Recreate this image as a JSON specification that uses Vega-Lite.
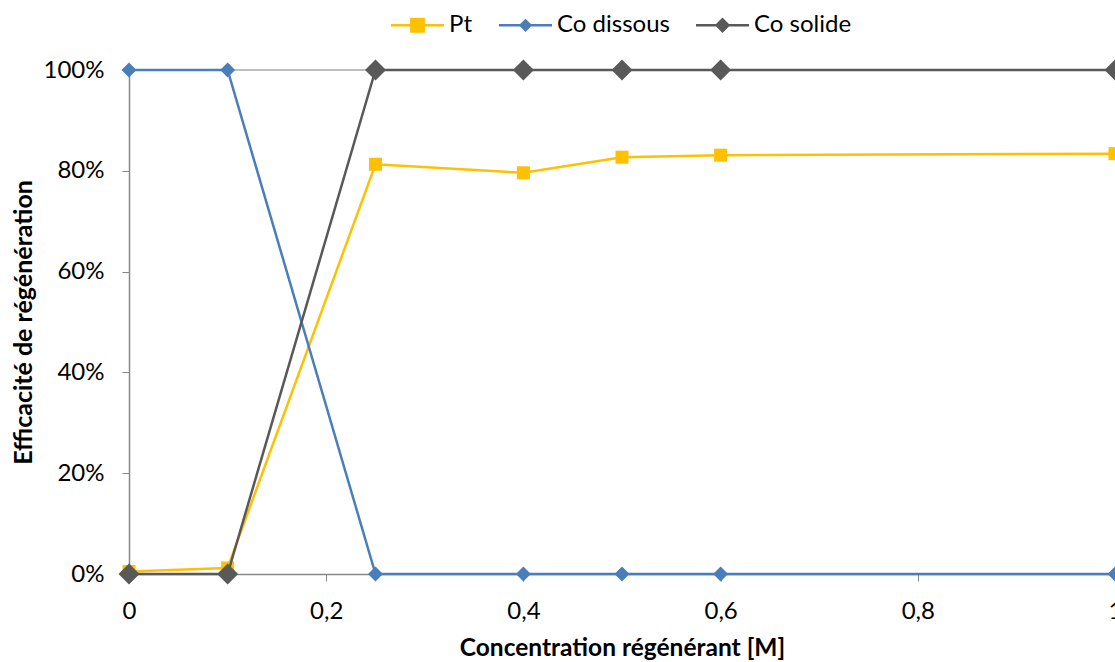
{
  "$schema": "https://vega.github.io/schema/vega-lite/v6.json",
  "width": 986,
  "height": 504,
  "autosize": {"type": "none"},
  "padding": {"left": 129, "top": 70, "right": 0, "bottom": 88},
  "config": {"font": "Lato", "view": {"stroke": null}},
  "data": {"values": [
    {"x": 0, "v": 0.005, "s": "Pt"},
    {"x": 0.1, "v": 0.012, "s": "Pt"},
    {"x": 0.25, "v": 0.813, "s": "Pt"},
    {"x": 0.4, "v": 0.796, "s": "Pt"},
    {"x": 0.5, "v": 0.827, "s": "Pt"},
    {"x": 0.6, "v": 0.831, "s": "Pt"},
    {"x": 1, "v": 0.834, "s": "Pt"},
    {"x": 0, "v": 1, "s": "Co dissous"},
    {"x": 0.1, "v": 1, "s": "Co dissous"},
    {"x": 0.25, "v": 0, "s": "Co dissous"},
    {"x": 0.4, "v": 0, "s": "Co dissous"},
    {"x": 0.5, "v": 0, "s": "Co dissous"},
    {"x": 0.6, "v": 0, "s": "Co dissous"},
    {"x": 1, "v": 0, "s": "Co dissous"},
    {"x": 0, "v": 0, "s": "Co solide"},
    {"x": 0.1, "v": 0, "s": "Co solide"},
    {"x": 0.25, "v": 1, "s": "Co solide"},
    {"x": 0.4, "v": 1, "s": "Co solide"},
    {"x": 0.5, "v": 1, "s": "Co solide"},
    {"x": 0.6, "v": 1, "s": "Co solide"},
    {"x": 1, "v": 1, "s": "Co solide"}
  ]},
  "encoding": {
    "x": {
      "field": "x", "type": "quantitative",
      "scale": {"domain": [0, 1], "nice": false},
      "axis": {
        "values": [0, 0.2, 0.4, 0.6, 0.8, 1],
        "labelExpr": "replace(format(datum.value, '~g'), '.', ',')",
        "grid": false, "domainColor": "#868686", "domainWidth": 1.5,
        "tickColor": "#868686", "tickSize": 7, "labelPadding": 18,
        "labelFontSize": 24, "labelColor": "#000000", "labelFlush": false,
        "title": "Concentration régénérant [M]", "titleFontSize": 24.5,
        "titleFontWeight": "bold", "titleColor": "#000000", "titlePadding": 13
      }
    },
    "y": {
      "field": "v", "type": "quantitative",
      "scale": {"domain": [0, 1], "nice": false},
      "axis": {
        "values": [0, 0.2, 0.4, 0.6, 0.8, 1], "format": ".0%",
        "grid": false, "domainColor": "#868686", "domainWidth": 1.5,
        "tickColor": "#868686", "tickSize": 7, "labelPadding": 18,
        "labelFontSize": 24, "labelColor": "#000000",
        "title": "Efficacité de régénération", "titleFontSize": 25,
        "titleFontWeight": "bold", "titleColor": "#000000", "titlePadding": 7
      }
    }
  },
  "layer": [
    {
      "mark": {"type": "rule", "color": "#BFBFBF", "strokeWidth": 1.5},
      "encoding": {"y": {"datum": 1}, "x": {"datum": 0}, "x2": {"datum": 1}}
    },
    {
      "transform": [{"filter": "datum.s === 'Pt'"}],
      "mark": {"type": "line", "strokeWidth": 2.5, "color": "#FFC000"},
      "encoding": {"order": {"field": "x"}}
    },
    {
      "transform": [{"filter": "datum.s === 'Pt'"}],
      "mark": {"type": "point", "filled": true, "opacity": 1, "shape": "square", "size": 170, "color": "#FFC000"}
    },
    {
      "transform": [{"filter": "datum.s === 'Co dissous'"}],
      "mark": {"type": "line", "strokeWidth": 2.5, "color": "#4A7EBB"},
      "encoding": {"order": {"field": "x"}}
    },
    {
      "transform": [{"filter": "datum.s === 'Co dissous'"}],
      "mark": {"type": "point", "filled": true, "opacity": 1, "shape": "diamond", "size": 225, "color": "#4A7EBB"}
    },
    {
      "transform": [{"filter": "datum.s === 'Co solide'"}],
      "mark": {"type": "line", "strokeWidth": 2.5, "color": "#595959"},
      "encoding": {"order": {"field": "x"}}
    },
    {
      "transform": [{"filter": "datum.s === 'Co solide'"}],
      "mark": {"type": "point", "filled": true, "opacity": 1, "shape": "diamond", "size": 441, "color": "#595959"}
    },
    {
      "transform": [{"filter": "false"}],
      "mark": {"type": "point", "filled": true, "opacity": 1, "size": 2809, "strokeWidth": 0},
      "encoding": {
        "color": {"field": "s", "type": "nominal",
          "scale": {"domain": ["Pt", "Co dissous", "Co solide"], "range": ["#FFC000", "#4A7EBB", "#595959"]},
          "legend": {
            "title": null, "orient": "none", "direction": "horizontal",
            "legendX": 262, "legendY": -71.5, "padding": 0,
            "symbolSize": 2809, "labelFontSize": 24, "labelColor": "#000000",
            "labelOffset": 5, "columnPadding": 26, "symbolStrokeWidth": 0,
            "labelLimit": 300, "symbolOpacity": 1
          }},
        "shape": {"field": "s", "type": "nominal",
          "scale": {"domain": ["Pt", "Co dissous", "Co solide"],
            "range": [
              "M-1,-0.045H1V0.045H-1Z M-0.28,-0.28H0.28V0.28H-0.28Z",
              "M-1,-0.045H1V0.045H-1Z M0,-0.25L0.25,0L0,0.25L-0.25,0Z",
              "M-1,-0.045H1V0.045H-1Z M0,-0.29L0.29,0L0,0.29L-0.29,0Z"
            ]},
          "legend": {
            "title": null, "orient": "none", "direction": "horizontal",
            "legendX": 262, "legendY": -71.5, "padding": 0,
            "symbolSize": 2809, "labelFontSize": 24, "labelColor": "#000000",
            "labelOffset": 5, "columnPadding": 26, "symbolStrokeWidth": 0,
            "labelLimit": 300, "symbolOpacity": 1
          }
        }
      }
    }
  ]
}
